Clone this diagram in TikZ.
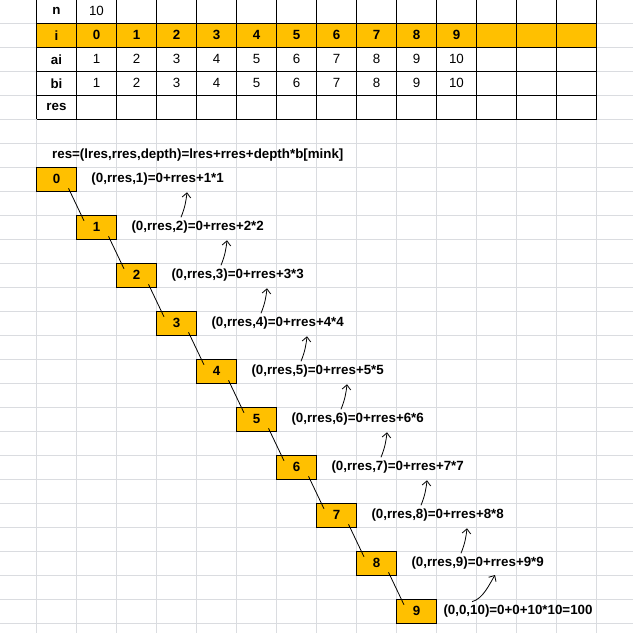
\documentclass[tikz,border=0pt]{standalone}
\usepackage{fontspec}
\setmainfont{Liberation Sans}
\usetikzlibrary{arrows.meta,calc,positioning}
\definecolor{laranja}{HTML}{FFC000}
\definecolor{grade}{HTML}{DADCE0}

\begin{document}
\begin{tikzpicture}[x=0.75pt, y=-0.75pt, >={Straight Barb[length=3.5pt,width=6.5pt]},
  font=\fontsize{10}{12}\selectfont, line width=0.75pt,
  caixa/.style={draw, fill=laranja, minimum width=30pt, minimum height=18pt, inner sep=0pt, font=\fontsize{10}{12}\selectfont\bfseries},
  rotulo/.style={inner sep=0pt, font=\fontsize{10}{12}\selectfont\bfseries},
  seta/.style={->, line width=0.6pt}]
  \useasboundingbox (0,0) rectangle (633,633);
  \clip (0,0) rectangle (633,633);
  \foreach \c in {0,...,16} \draw[grade] (-3.5+40*\c,0) -- (-3.5+40*\c,633);
  \foreach \r in {0,...,26} \draw[grade] (0,-0.7+24*\r) -- (633,-0.7+24*\r);
  \fill[laranja] (36.5,23.3) rectangle (596.5,47.3);
  \foreach \c in {0,...,14} \draw (36.5+40*\c,-0.7) -- (36.5+40*\c,119.3);
  \foreach \r in {0,...,5} \draw (36.5,-0.7+24*\r) -- (596.5,-0.7+24*\r);
  \foreach \t [count=\r from 0] in {n,i,ai,bi,res} \node[rotulo] (t\r) at (56.5,11.3+24*\r) {\t};
  \node (nval) at (96.5,11.3) {10};
  \foreach \k in {0,...,9} {
    \pgfmathtruncatemacro{\v}{\k+1}
    \node[rotulo] (i\k) at (96.5+40*\k,35.3) {\k};
    \node (a\k) at (96.5+40*\k,59.3) {\v};
    \node (bb\k) at (96.5+40*\k,83.3) {\v};
  }
  \node[rotulo, anchor=west] (cab) at (51.7,155.3) {res=(lres,rres,depth)=lres+rres+depth*b[mink]};
  \foreach \k in {0,...,9} \node[caixa] (b\k) at (56.5+40*\k,179.3+48*\k) {\k};
  \foreach \k [evaluate=\k as \p using int(\k+1)] in {0,...,8}
    \draw[line width=0.6pt] ($(b\k.center)+(12,9)$) -- ($(b\p.north west)+(8,6)$);
  \foreach \k [evaluate=\k as \p using int(\k-1)] in {1,...,9}
    \node[rotulo, right=10.5pt of b\p] (l\k) {(0,rres,\k)=0+rres+\k*\k};
  \node[rotulo, right=4.5pt of b9] (l10) {(0,0,10)=0+0+10*10=100};
  \foreach \k [evaluate=\k as \p using int(\k+1)] in {1,...,8}
    \draw[seta] ($(l\p.west)+(50,-10)$) .. controls +(4,-10) and +(-1,9) .. ($(l\k.west)+(96,13)$);
  \draw[seta] ($(l10.west)+(29,-9.6)$) .. controls +(11,-3) and +(-6,10) .. ($(l9.west)+(84,11.7)$);
\end{tikzpicture}
\end{document}
